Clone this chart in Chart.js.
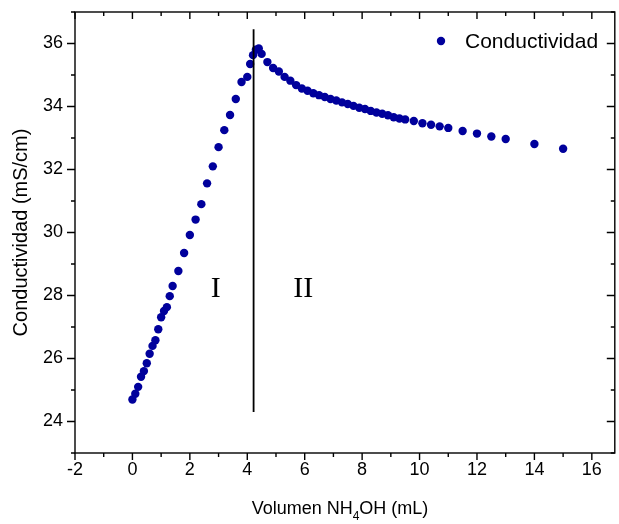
<!DOCTYPE html>
<html>
<head>
<meta charset="utf-8">
<script src="https://cdn.jsdelivr.net/npm/chart.js@4.4.1/dist/chart.umd.min.js"></script>
<style>
  html, body { margin: 0; padding: 0; background: #fff; }
  canvas { display: block; }
</style>
</head>
<body>
<canvas id="chart" width="619" height="524"></canvas>
<script>
// volumen de NH4OH añadido (mL)
const volumen = [
  0, 0.1, 0.2, 0.3, 0.4, 0.5, 0.6, 0.7, 0.8, 0.9, 1.0, 1.1, 1.2, 1.3, 1.4,
  1.6, 1.8, 2.0, 2.2, 2.4, 2.6, 2.8, 3.0, 3.2, 3.4, 3.6, 3.8, 4.0,
  4.1, 4.2, 4.3, 4.4, 4.5,
  4.7, 4.9, 5.1, 5.3, 5.5, 5.7, 5.9, 6.1, 6.3, 6.5, 6.7, 6.9, 7.1, 7.3, 7.5,
  7.7, 7.9, 8.1, 8.3, 8.5, 8.7, 8.9, 9.1, 9.3, 9.5,
  9.8, 10.1, 10.4, 10.7, 11.0, 11.5, 12.0, 12.5, 13.0, 14.0, 15.0
];
// conductividad (mS/cm)
const conductividad = [
  24.70, 24.88, 25.10, 25.42, 25.60, 25.85, 26.15, 26.40, 26.58, 26.93, 27.31, 27.51, 27.63, 27.98, 28.30,
  28.78, 29.35, 29.92, 30.41, 30.90, 31.56, 32.10, 32.71, 33.25, 33.73, 34.24, 34.78, 34.94,
  35.35, 35.63, 35.80, 35.84, 35.67,
  35.41, 35.22, 35.11, 34.94, 34.82, 34.68, 34.57, 34.50, 34.42, 34.36, 34.30, 34.24, 34.19, 34.13, 34.08,
  34.02, 33.96, 33.92, 33.86, 33.81, 33.77, 33.72, 33.66, 33.62, 33.59,
  33.54, 33.47, 33.42, 33.37, 33.32, 33.22, 33.14, 33.05, 32.97, 32.81, 32.66
];

// punto de equivalencia (línea vertical) y zonas
const equivX = 4.22;
const equivY = [24.3, 36.45];
const zonas = [
  { text: 'I', x: 2.9, y: 28.2 },
  { text: 'II', x: 5.95, y: 28.2 }
];

const xTicks = [-2, 0, 2, 4, 6, 8, 10, 12, 14, 16];
const yTicks = [24, 26, 28, 30, 32, 34, 36];

const serieLabel = 'Conductividad';
const xTitle = ['Volumen NH', '4', 'OH (mL)'];
const yTitle = 'Conductividad (mS/cm)';

const dotColor = '#00009c';
const SANS = '"Liberation Sans", Arial, sans-serif';

const framePlugin = {
  id: 'frame',
  afterDraw(chart) {
    const { ctx, chartArea: a, scales: { x, y } } = chart;
    ctx.save();
    ctx.strokeStyle = '#000';
    ctx.lineWidth = 1.4;
    ctx.strokeRect(a.left, a.top, a.right - a.left, a.bottom - a.top);

    // ticks: major on even values, minor on odd
    ctx.beginPath();
    for (let v = -2; v <= 16; v++) {
      const px = x.getPixelForValue(v);
      const len = v % 2 === 0 ? 7 : 4;
      ctx.moveTo(px, a.bottom); ctx.lineTo(px, a.bottom + len);
      ctx.moveTo(px, a.top); ctx.lineTo(px, a.top + len);
    }
    for (let v = 23; v <= 37; v++) {
      const py = y.getPixelForValue(v);
      const len = v % 2 === 0 ? 8 : 4;
      ctx.moveTo(a.left, py); ctx.lineTo(a.left - len, py);
      ctx.moveTo(a.right, py); ctx.lineTo(a.right - len, py);
    }
    ctx.stroke();

    // zone labels
    ctx.fillStyle = '#000';
    ctx.font = '30px "Liberation Serif", "Times New Roman", serif';
    ctx.textAlign = 'center';
    ctx.textBaseline = 'middle';
    zonas.forEach(z => ctx.fillText(z.text, x.getPixelForValue(z.x), y.getPixelForValue(z.y)));

    // legend
    ctx.fillStyle = dotColor;
    ctx.beginPath();
    ctx.arc(441, 41, 4.2, 0, Math.PI * 2);
    ctx.fill();
    ctx.fillStyle = '#000';
    ctx.font = '21px ' + SANS;
    ctx.textAlign = 'left';
    ctx.fillText(serieLabel, 465, 42);

    // axis titles
    const big = '18px ' + SANS, small = '12px ' + SANS;
    ctx.font = big;
    const w0 = ctx.measureText(xTitle[0]).width;
    const w2 = ctx.measureText(xTitle[2]).width;
    ctx.font = small;
    const w1 = ctx.measureText(xTitle[1]).width;
    const sx = 340 - (w0 + w1 + w2) / 2;
    ctx.textBaseline = 'alphabetic';
    ctx.font = big;
    ctx.fillText(xTitle[0], sx, 514);
    ctx.fillText(xTitle[2], sx + w0 + w1, 514);
    ctx.font = small;
    ctx.fillText(xTitle[1], sx + w0, 520);

    ctx.font = '20px ' + SANS;
    ctx.translate(21, (a.top + a.bottom) / 2);
    ctx.rotate(-Math.PI / 2);
    ctx.textAlign = 'center';
    ctx.textBaseline = 'middle';
    ctx.fillText(yTitle, 0, 0);
    ctx.restore();
  }
};

new Chart(document.getElementById('chart'), {
  type: 'scatter',
  data: {
    datasets: [
      {
        type: 'line',
        label: 'equivalencia',
        data: equivY.map(v => ({ x: equivX, y: v })),
        borderColor: '#000',
        borderWidth: 1.8,
        pointRadius: 0,
        order: 0
      },
      {
        label: serieLabel,
        data: volumen.map((v, i) => ({ x: v, y: conductividad[i] })),
        backgroundColor: dotColor,
        borderColor: dotColor,
        borderWidth: 0,
        pointRadius: 4.2,
        order: 1
      }
    ]
  },
  options: {
    responsive: false,
    animation: false,
    layout: { padding: { top: 12, right: 4, left: 0, bottom: 0 } },
    plugins: {
      legend: { display: false },
      tooltip: { enabled: false }
    },
    scales: {
      x: {
        type: 'linear',
        min: -2,
        max: 16.8,
        grid: { display: false, drawTicks: false },
        border: { display: false },
        afterFit: s => { s.height = 71; s.paddingLeft = 0; s.paddingRight = 0; },
        afterBuildTicks: s => { s.ticks = xTicks.map(v => ({ value: v })); },
        ticks: {
          padding: 6,
          color: '#000',
          font: { family: SANS, size: 18 },
          maxRotation: 0,
          autoSkip: false
        }
      },
      y: {
        type: 'linear',
        min: 23,
        max: 37,
        grid: { display: false, drawTicks: false },
        border: { display: false },
        afterFit: s => { s.width = 75; s.paddingTop = 0; s.paddingBottom = 0; },
        afterBuildTicks: s => { s.ticks = yTicks.map(v => ({ value: v })); },
        ticks: {
          padding: 12,
          color: '#000',
          font: { family: SANS, size: 18 },
          autoSkip: false
        }
      }
    }
  },
  plugins: [framePlugin]
});
</script>
</body>
</html>
